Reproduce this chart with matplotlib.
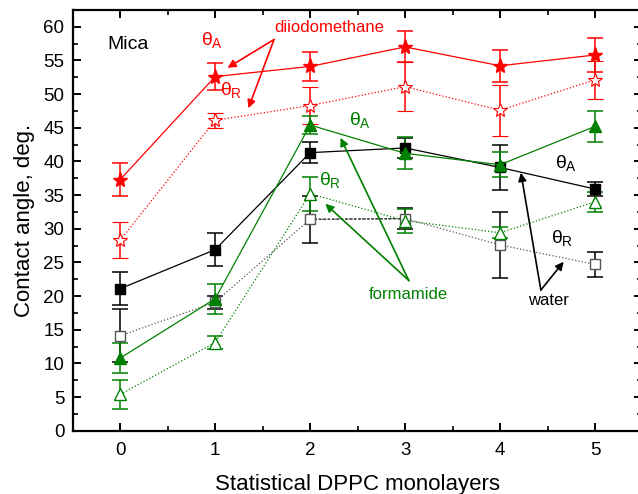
import matplotlib
matplotlib.use('Agg')
import matplotlib.pyplot as plt
from matplotlib.ticker import MultipleLocator

plt.rcParams['font.family'] = ['Liberation Sans', 'DejaVu Sans']
plt.rcParams['mathtext.fontset'] = 'custom'
plt.rcParams['mathtext.rm'] = 'Liberation Sans'
plt.rcParams['mathtext.it'] = 'Liberation Sans'
plt.rcParams['mathtext.bf'] = 'Liberation Sans:bold'

# monolayers
layers = [0, 1, 2, 3, 4, 5]

# diiodomethane
diiodo_adv = [37.3, 52.6, 54.1, 57.0, 54.2, 55.8]
diiodo_adv_err = [2.5, 2.0, 2.1, 2.3, 2.4, 2.5]
diiodo_rec = [28.3, 46.1, 48.3, 51.1, 47.6, 52.1]
diiodo_rec_err = [2.65, 1.1, 2.8, 3.6, 3.8, 2.85]

# water
water_adv = [21.1, 26.9, 41.3, 42.0, 39.1, 35.9]
water_adv_err = [2.45, 2.5, 1.6, 1.5, 3.3, 1.1]
water_rec = [14.1, 19.1, 31.4, 31.5, 27.6, 24.7]
water_rec_err = [3.95, 0.95, 3.5, 1.6, 4.9, 1.9]

# formamide
form_adv = [10.8, 19.6, 45.4, 41.2, 39.5, 45.2]
form_adv_err = [2.25, 2.2, 1.4, 2.4, 1.85, 2.3]
form_rec = [5.4, 13.1, 35.2, 31.2, 29.4, 34.0]
form_rec_err = [2.2, 1.0, 2.5, 1.8, 0.8, 1.5]

red = '#ff0000'
green = '#008000'

fig = plt.figure(figsize=(6.38, 4.94), dpi=100)
ax = fig.add_axes([0.114, 0.128, 0.893, 0.852])

eb = dict(capsize=5.5, elinewidth=1.1, capthick=1.1, lw=0.9)

# advancing (filled) and receding (open) series
ax.errorbar(layers, water_rec, yerr=water_rec_err, color='#555555', ls=':', marker='s',
            ms=7, mfc='white', mec='#555555', ecolor='black', **eb)
ax.plot(layers[2:4], water_rec[2:4], color='black', ls=(0, (2, 1.5)), lw=0.9)
ax.errorbar(layers, form_rec, yerr=form_rec_err, color=green, ls=':', marker='^',
            ms=9, mfc='white', mec=green, ecolor=green, **eb)
ax.errorbar(layers, diiodo_rec, yerr=diiodo_rec_err, color=red, ls=':', marker='*',
            ms=10, mfc='white', mec=red, mew=0.8, ecolor=red, **eb)
ax.errorbar(layers, water_adv, yerr=water_adv_err, color='black', ls='-', marker='s',
            ms=7, mfc='black', mec='black', ecolor='black', **eb)
ax.errorbar(layers, form_adv, yerr=form_adv_err, color=green, ls='-', marker='^',
            ms=9, mfc=green, mec=green, ecolor=green, **eb)
ax.errorbar(layers, diiodo_adv, yerr=diiodo_adv_err, color=red, ls='-', marker='*',
            ms=11, mfc=red, mec=red, ecolor=red, **eb)

ax.set_xlim(-0.5, 5.5)
ax.set_ylim(0, 62.5)
ax.xaxis.set_major_locator(MultipleLocator(1))
ax.xaxis.set_minor_locator(MultipleLocator(0.5))
ax.yaxis.set_major_locator(MultipleLocator(5))
ax.yaxis.set_minor_locator(MultipleLocator(2.5))
ax.tick_params(which='both', direction='in', top=True, right=True, labelsize=13.5, pad=6)
ax.tick_params(axis='x', which='both', pad=8)
ax.tick_params(which='major', length=6, width=1.4)
ax.tick_params(which='minor', length=3.5, width=1.2)
for s in ax.spines.values():
    s.set_linewidth(1.6)

ax.set_xlabel('Statistical DPPC monolayers', fontsize=16, labelpad=11)
ax.set_ylabel('Contact angle, deg.', fontsize=16, labelpad=6)

# labels
ax.text(-0.13, 57.3, 'Mica', fontsize=14, ha='left', va='center')

ax.text(2.2, 59.9, 'diiodomethane', color=red, fontsize=12, ha='center', va='center')
ax.text(0.97, 58.0, r'$\theta_A$', color=red, fontsize=14, ha='center', va='center')
ax.text(1.17, 50.6, r'$\theta_R$', color=red, fontsize=14, ha='center', va='center')
ap = dict(arrowstyle='-|>', mutation_scale=12, lw=1.2, shrinkA=0, shrinkB=0)
ax.annotate('', xy=(1.13, 53.9), xytext=(1.62, 58.1), arrowprops=dict(color=red, **ap))
ax.annotate('', xy=(1.35, 47.9), xytext=(1.62, 58.1), arrowprops=dict(color=red, **ap))

ax.text(2.52, 46.2, r'$\theta_A$', color=green, fontsize=14, ha='center', va='center')
ax.text(2.21, 37.2, r'$\theta_R$', color=green, fontsize=14, ha='center', va='center')
ax.text(3.03, 20.3, 'formamide', color=green, fontsize=12, ha='center', va='center')
ax.annotate('', xy=(2.32, 43.5), xytext=(3.04, 22.3), arrowprops=dict(color=green, **ap))
ax.annotate('', xy=(2.16, 33.7), xytext=(3.04, 22.3), arrowprops=dict(color=green, **ap))

ax.text(4.69, 39.7, r'$\theta_A$', color='black', fontsize=14, ha='center', va='center')
ax.text(4.65, 28.6, r'$\theta_R$', color='black', fontsize=14, ha='center', va='center')
ax.text(4.51, 19.4, 'water', color='black', fontsize=12, ha='center', va='center')
ax.annotate('', xy=(4.22, 38.3), xytext=(4.43, 20.9), arrowprops=dict(color='black', **ap))
ax.annotate('', xy=(4.67, 25.1), xytext=(4.43, 20.9), arrowprops=dict(color='black', **ap))

fig.savefig('out.png', dpi=100)
